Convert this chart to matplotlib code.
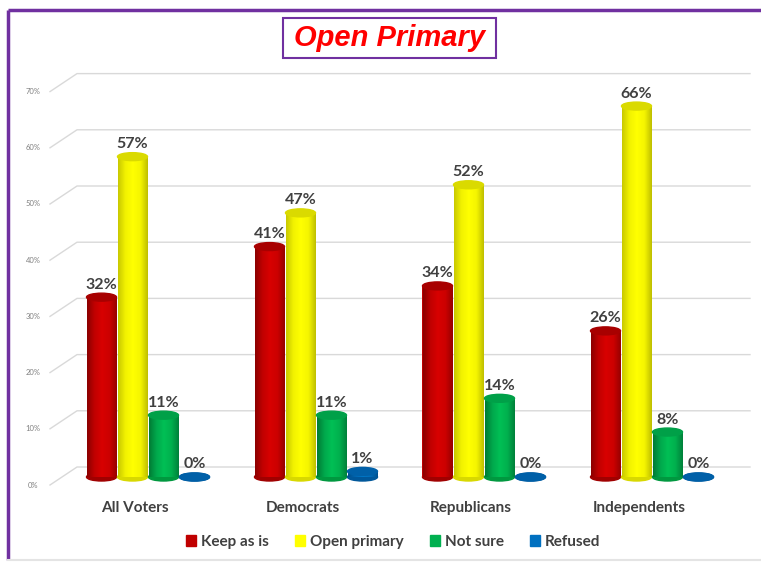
import numpy as np
import matplotlib.pyplot as plt
from matplotlib.patches import Ellipse, Rectangle, Patch
from matplotlib.colors import LinearSegmentedColormap
from matplotlib.lines import Line2D

groups = ["All Voters", "Democrats", "Republicans", "Independents"]
series = ["Keep as is", "Open primary", "Not sure", "Refused"]
keep = [32, 41, 34, 26]
open_primary = [57, 47, 52, 66]
not_sure = [11, 11, 14, 8]
refused = [0, 1, 0, 0]
yticks = [0, 10, 20, 30, 40, 50, 60, 70]

values = [keep, open_primary, not_sure, refused]
legend_colors = ["#C00000", "#FFFF00", "#00B050", "#0070C0"]
shades = [
    ["#8A0000", "#C00000", "#D80000", "#CC0000", "#960000"],
    ["#C8C800", "#F2F200", "#FFFF00", "#F5F500", "#BEBE00"],
    ["#007A34", "#00A84C", "#00C055", "#00B04E", "#00803A"],
    ["#004F8C", "#0066B0", "#0078C8", "#006CB8", "#00508E"],
]
top_colors = ["#A80000", "#DADA00", "#00A048", "#0060A8"]
bottom_colors = ["#A00000", "#D8D800", "#00983F", "#00579A"]

W, H = 761, 562
fig = plt.figure(figsize=(W / 100, H / 100), dpi=100)
ax = fig.add_axes([0, 0, 1, 1])

# axes mapped onto pixels: 1 x-unit = one category group, 1 y-unit = 1 %
XU, X0 = 168.0, 148.0
YU, Y0 = 5.62, 477.0
xlim = (-X0 / XU, (W - X0) / XU)
ylim = (-(H - Y0) / YU, Y0 / YU)
ax.axis("off")

def px_x(p):
    return (p - X0) / XU

TXT = "#404040"
lab_font = "Lato"

# back wall gridlines with a small perspective offset
front_dy = 8 / YU
back_dy = 10 / YU
for t in yticks:
    ax.plot([px_x(50), px_x(77), px_x(750)],
            [t - front_dy, t + back_dy, t + back_dy],
            color="#D9D9D9", lw=1, zorder=1)
    ax.text(px_x(33), t - front_dy, f"{t}%", fontsize=5.5, color="#808080",
            ha="center", va="center", family=lab_font)

bw = 30 / XU
step = 31 / XU
eh = 8 / YU
grad = np.linspace(0, 1, 256).reshape(1, -1)

for j, vals in enumerate(values):
    cmap = LinearSegmentedColormap.from_list(f"c{j}", shades[j])
    for i, v in enumerate(vals):
        xc = i + (j - 1.5) * step
        z = 3 + i + j * 0.1
        ax.add_patch(Ellipse((xc, 0), bw, eh, color=bottom_colors[j], zorder=z))
        if v > 0:
            bar = ax.bar(xc, v, width=bw, color=legend_colors[j], zorder=z)[0]
            im = ax.imshow(grad, cmap=cmap, aspect="auto",
                           extent=[xc - bw / 2, xc + bw / 2, 0, v], zorder=z)
            im.set_clip_path(bar)
        ax.add_patch(Ellipse((xc, v), bw, eh, color=top_colors[j], zorder=z + 0.05))
        ax.text(xc, v + eh / 2 + 1.5 / YU, f"{v}%", ha="center", va="bottom",
                fontsize=11.5, fontweight="bold", color=TXT, family=lab_font, zorder=20)

for i, g in enumerate(groups):
    ax.text(i - 13 / XU, (Y0 - 508) / YU, g, ha="center", va="center",
            fontsize=11, fontweight="bold", color=TXT, family=lab_font)

ax.set_xlim(*xlim)
ax.set_ylim(*ylim)

handles = [Patch(color=c) for c in legend_colors]
leg = fig.legend(handles, series, loc="center", bbox_to_anchor=(393 / W, 1 - 542 / H),
                 ncol=4, frameon=False, handlelength=0.7, handleheight=0.7,
                 handletextpad=0.3, columnspacing=1.7,
                 prop={"family": lab_font, "weight": "bold", "size": 11})
for t in leg.get_texts():
    t.set_color(TXT)

# outer frame
purple = "#7030A0"
fig.add_artist(Line2D([8 / W, 8 / W], [1 - 560 / H, 1 - 10 / H], color=purple,
                      lw=2.5, solid_capstyle="butt"))
fig.add_artist(Line2D([8 / W, 1], [1 - 10 / H, 1 - 10 / H], color=purple,
                      lw=2.5, solid_capstyle="butt"))
fig.add_artist(Line2D([8 / W, 1], [1 - 560 / H, 1 - 560 / H], color="#E4E4E4", lw=1.5))

# title box
fig.add_artist(Rectangle((283 / W, 1 - 58 / H), 213 / W, 40 / H, facecolor="white",
                         edgecolor=purple, lw=1.5, transform=fig.transFigure))
fig.text(390 / W, 1 - 38 / H, "Open Primary", ha="center", va="center",
         fontsize=21, fontweight="bold", fontstyle="italic", color="#FF0000",
         family="Liberation Sans")

fig.savefig("out.png", dpi=100)
